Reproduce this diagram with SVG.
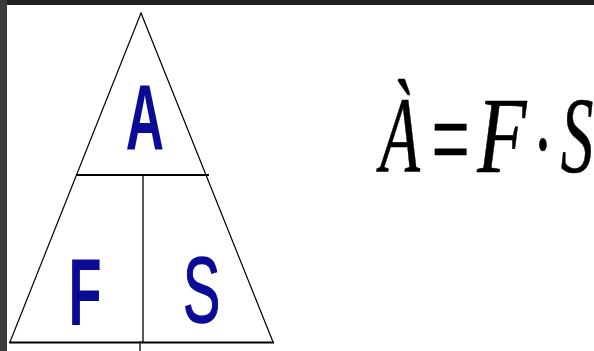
<svg xmlns="http://www.w3.org/2000/svg" width="594" height="351" viewBox="0 0 594 351">
<style>
.ln{stroke:#000;fill:none;stroke-linecap:square}
.lbl{font-family:"Liberation Sans",Arial,sans-serif;fill:#0b0b98;text-anchor:middle}
.eq{font-family:"Liberation Serif","Times New Roman",serif;font-style:italic;font-size:109px;fill:#000;stroke:#000;stroke-width:0.6;text-anchor:middle}
</style>
<rect x="0" y="0" width="594" height="351" fill="#fff"/>
<rect x="0" y="0" width="594" height="5" fill="#222"/>
<rect x="0" y="0" width="7" height="351" fill="#3c3c3c"/>
<g id="triangle">
<path class="ln" d="M141,13 L10,342 M141,13 L273,342" stroke-width="1.2"/>
<path class="ln" d="M77,175 L208,175" stroke-width="2"/>
<path class="ln" d="M10,342.5 L273,342.5" stroke-width="2"/>
<path class="ln" d="M143,175 L143,342" stroke-width="1.3"/>
<path class="ln" d="M140,342 L140,351" stroke-width="1.3"/>
</g>
<g id="label-A"><text class="lbl" font-weight="bold" font-size="93" transform="translate(145,149) scale(0.57,1)">A</text></g>
<g id="label-F"><text class="lbl" font-weight="bold" font-size="95" transform="translate(85,325) scale(0.57,1)">F</text></g>
<g id="label-S"><text class="lbl" font-size="93" stroke="#0b0b98" stroke-width="1.5" transform="translate(201.5,322) scale(0.6,1)">S</text></g>
<g id="formula">
<text class="eq" transform="translate(400,172) scale(0.6,1)">À</text>
<text class="eq" stroke-width="0" transform="translate(450,180) scale(0.62,1.12)">=</text>
<text class="eq" transform="translate(502,172) scale(0.74,1)">F</text>
<text class="eq" transform="translate(542,180) scale(0.57,1)">·</text>
<text class="eq" transform="translate(577,172) scale(0.6,1)">S</text>
</g>
</svg>
